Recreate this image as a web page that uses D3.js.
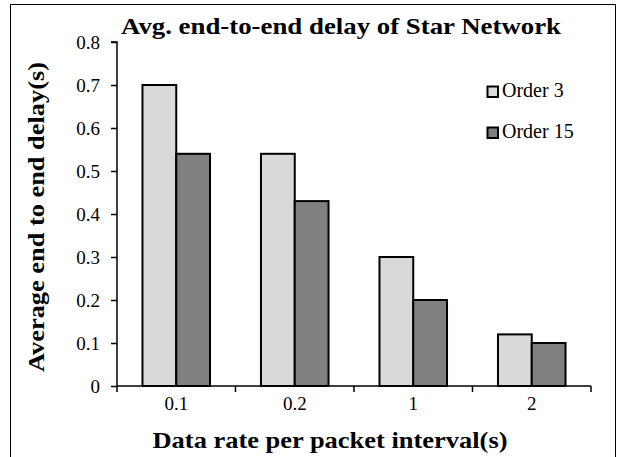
<!DOCTYPE html>
<html><head><meta charset="utf-8">
<script src="https://cdn.jsdelivr.net/npm/d3@7"></script>
<style>body{margin:0;background:#fff}svg{display:block}text{font-family:"Liberation Serif","Times New Roman",serif;fill:#000}</style>
</head><body><svg id="c" width="624" height="457"></svg>
<script>
const categories = ["0.1", "0.2", "1", "2"];
const seriesNames = ["Order 3", "Order 15"];
const order3 = [0.7, 0.54, 0.3, 0.12];
const order15 = [0.54, 0.43, 0.2, 0.1];
const yTicks = [0, 0.1, 0.2, 0.3, 0.4, 0.5, 0.6, 0.7, 0.8];
const colors = ["#d9d9d9", "#808080"];
const FONT = '"Liberation Serif","Times New Roman",serif';

const svg = d3.select("#c");
svg.append("rect").attr("x",10.5).attr("y",4.5).attr("width",605).attr("height",470)
  .attr("fill","none").attr("stroke","#000").attr("stroke-width",1);

const m = {left:117, right:591, top:42, bottom:386};
const x = d3.scaleBand().domain(categories).range([m.left, m.right]).paddingInner(0.43).paddingOuter(0.215);
const xs = d3.scaleBand().domain(seriesNames).range([0, x.bandwidth()]);
const y = d3.scaleLinear().domain([0,0.8]).range([m.bottom, m.top]);

const data = categories.map((c,i)=>({c, vals:[order3[i], order15[i]]}));
svg.append("g").selectAll("g.grp").data(data).join("g").attr("class","grp")
  .attr("transform", d=>`translate(${x(d.c)},0)`)
  .selectAll("rect").data(d=>d.vals.map((v,j)=>({v, s:seriesNames[j], j})))
  .join("rect")
  .attr("x", d=>xs(d.s)).attr("width", xs.bandwidth())
  .attr("y", d=>y(d.v)).attr("height", d=>y(0)-y(d.v))
  .attr("fill", d=>colors[d.j]).attr("stroke","#000").attr("stroke-width",2);

// y axis
const ya = svg.append("g").attr("transform",`translate(${m.left},0)`)
  .call(d3.axisLeft(y).tickValues(yTicks).tickSize(6).tickPadding(11).tickFormat(d=> d===0?"0":d3.format(".1f")(d)));
ya.attr("font-family", FONT);
ya.select(".domain").attr("stroke-width",1.5).attr("d",`M-6,${y(0.8)}H0V${y(0)}`);
ya.selectAll(".tick line").attr("stroke-width",1.5);
ya.selectAll("text").attr("font-size",19).attr("font-family",FONT);

// x axis
const xTickScale = d3.scaleLinear().domain([0, categories.length]).range([m.left, m.right]);
const xa = svg.append("g").attr("transform",`translate(0,${m.bottom})`);
xa.append("line").attr("x1",m.left).attr("x2",m.right).attr("stroke","#000").attr("stroke-width",1.5);
xa.selectAll("line.t").data(d3.range(categories.length+1)).join("line").attr("class","t")
  .attr("x1",d=>xTickScale(d)).attr("x2",d=>xTickScale(d)).attr("y1",0).attr("y2",6)
  .attr("stroke","#000").attr("stroke-width",1.5);
xa.selectAll("text").data(categories).join("text")
  .attr("x",d=>x(d)+x.bandwidth()/2).attr("y",24).attr("text-anchor","middle")
  .attr("font-size",19).text(d=>d);

// titles
svg.append("text").attr("x",341).attr("y",34).attr("text-anchor","middle")
  .attr("font-size",24).attr("font-weight","bold")
  .attr("textLength",440).attr("lengthAdjust","spacingAndGlyphs")
  .text("Avg. end-to-end delay of Star Network");
svg.append("text").attr("x",330).attr("y",448).attr("text-anchor","middle")
  .attr("font-size",24).attr("font-weight","bold")
  .attr("textLength",355).attr("lengthAdjust","spacingAndGlyphs")
  .text("Data rate per packet interval(s)");
svg.append("text").attr("transform","translate(44,217) rotate(-90)").attr("text-anchor","middle")
  .attr("font-size",24).attr("font-weight","bold")
  .attr("textLength",310).attr("lengthAdjust","spacingAndGlyphs")
  .text("Average end to end delay(s)");

// legend
const lg = svg.append("g");
seriesNames.forEach((s,i)=>{
  const yy = 97 + i*41;
  lg.append("rect").attr("x",487.5).attr("y",yy-10.5).attr("width",10.5).attr("height",10.5)
    .attr("fill",colors[i]).attr("stroke","#000").attr("stroke-width",2);
  lg.append("text").attr("x",502).attr("y",yy).attr("font-size",20).text(s);
});
</script></body></html>
